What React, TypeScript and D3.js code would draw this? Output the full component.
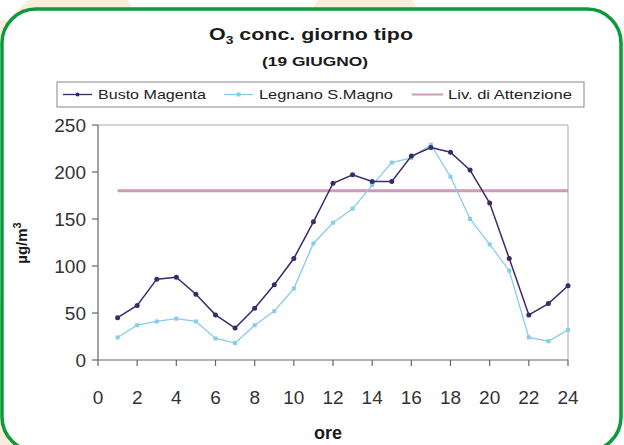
import React from "react";
import * as d3 from "d3";

// hours of the day
const hours = [1, 2, 3, 4, 5, 6, 7, 8, 9, 10, 11, 12, 13, 14, 15, 16, 17, 18, 19, 20, 21, 22, 23, 24];
const bustoMagenta = [45, 58, 86, 88, 70, 48, 34, 55, 80, 108, 147, 188, 197, 190, 190, 217, 226, 221, 202, 167, 108, 48, 60, 79];
const legnanoSMagno = [24, 37, 41, 44, 41, 23, 18, 37, 52, 76, 124, 146, 161, 186, 210, 215, 229, 195, 150, 123, 95, 24, 20, 32];
const livAttenzione = 180;
const xTicks = [0, 2, 4, 6, 8, 10, 12, 14, 16, 18, 20, 22, 24];
const yTicks = [0, 50, 100, 150, 200, 250];
const legendNames = ["Busto Magenta", "Legnano S.Magno", "Liv. di Attenzione"];

const W = 624;
const H = 445;
const FONT = "Liberation Sans, Arial, sans-serif";

const colBusto = "#3b2a6b";
const colLegnano = "#86cdea";
const colLiv = "#cf99ba";
const axisCol = "#666";

export default function App() {
  const x = d3.scaleLinear().domain([0, 24]).range([98, 568]);
  const y = d3.scaleLinear().domain([0, 250]).range([360, 125]);

  const line = d3
    .line<number>()
    .x((_, i) => x(hours[i]))
    .y((d) => y(d));

  return (
    <svg
      width={W}
      height={H}
      style={{ position: "absolute", left: 0, top: 0, background: "#fff" }}
      fontFamily={FONT}
    >
      {/* background decoration */}
      <polygon points="8,20 28,0 128,0 138,20" fill="#fcecdc" />
      <polygon points="305,20 318,0 412,0 425,20" fill="#fcecdc" />
      <rect x={0} y={300} width={40} height={145} fill="#fcecdc" />
      <rect x={0} y={20} width={30} height={30} fill="#fcecdc" />
      <rect x={2} y={9} width={619} height={442} rx={34} fill="#fff" stroke="#0b9a3c" strokeWidth={3.5} />

      {/* title */}
      <text x={311} y={40} textAnchor="middle" fontWeight="bold" fontSize={17} fill="#1a1a1a" textLength={204} lengthAdjust="spacingAndGlyphs">
        O<tspan fontSize={11} dy={4}>3</tspan>
        <tspan dy={-4}> conc. giorno tipo</tspan>
      </text>
      <text x={315} y={66} textAnchor="middle" fontWeight="bold" fontSize={12.5} fill="#1a1a1a" textLength={106} lengthAdjust="spacingAndGlyphs">
        (19 GIUGNO)
      </text>

      {/* legend */}
      <rect x={57} y={82} width={527} height={25} fill="#fff" stroke="#888" strokeWidth={1} />
      <g fontSize={13} fill="#222">
        <line x1={63} x2={92} y1={94.5} y2={94.5} stroke={colBusto} strokeWidth={1.3} />
        <circle cx={77.5} cy={94.5} r={2} fill={colBusto} />
        <text x={98} y={99} textLength={108} lengthAdjust="spacingAndGlyphs">{legendNames[0]}</text>
        <line x1={224} x2={253} y1={94.5} y2={94.5} stroke={colLegnano} strokeWidth={1.3} />
        <rect x={236.5} y={92.5} width={4} height={4} fill={colLegnano} />
        <text x={259} y={99} textLength={134} lengthAdjust="spacingAndGlyphs">{legendNames[1]}</text>
        <line x1={412} x2={443} y1={94.5} y2={94.5} stroke={colLiv} strokeWidth={2} />
        <text x={448} y={99} textLength={124} lengthAdjust="spacingAndGlyphs">{legendNames[2]}</text>
      </g>

      {/* plot frame */}
      <line x1={98} x2={568} y1={125} y2={125} stroke="#aaa" strokeWidth={1} />
      <line x1={568} x2={568} y1={125} y2={360} stroke="#aaa" strokeWidth={1} />
      <line x1={98} x2={98} y1={125} y2={360} stroke={axisCol} strokeWidth={1.2} />
      <line x1={98} x2={568} y1={360} y2={360} stroke={axisCol} strokeWidth={1.2} />

      {/* y axis */}
      {yTicks.map((t) => (
        <g key={"y" + t}>
          <line x1={92} x2={98} y1={y(t)} y2={y(t)} stroke={axisCol} strokeWidth={1.2} />
          <text x={86} y={y(t) + 6.5} textAnchor="end" fontSize={19} fill="#333">
            {t}
          </text>
        </g>
      ))}
      {/* x axis */}
      {xTicks.map((t) => (
        <g key={"x" + t}>
          <line x1={x(t)} x2={x(t)} y1={360} y2={366} stroke={axisCol} strokeWidth={1.2} />
          <text x={x(t)} y={404} textAnchor="middle" fontSize={19} fill="#333">
            {t}
          </text>
        </g>
      ))}

      <text x={328} y={439} textAnchor="middle" fontWeight="bold" fontSize={18} fill="#1a1a1a">
        ore
      </text>
      <text transform="translate(27,243) rotate(-90)" textAnchor="middle" fontWeight="bold" fontSize={15} fill="#1a1a1a">
        µg/m<tspan fontSize={11} dy={-6}>3</tspan>
      </text>

      {/* attention level */}
      <line x1={x(1)} x2={x(24)} y1={y(livAttenzione)} y2={y(livAttenzione)} stroke={colLiv} strokeWidth={3} />

      {/* series */}
      <path d={line(legnanoSMagno) || ""} fill="none" stroke={colLegnano} strokeWidth={1.3} />
      {legnanoSMagno.map((v, i) => (
        <rect key={"l" + i} x={x(hours[i]) - 2} y={y(v) - 2} width={4} height={4} fill={colLegnano} />
      ))}
      <path d={line(bustoMagenta) || ""} fill="none" stroke={colBusto} strokeWidth={1.5} />
      {bustoMagenta.map((v, i) => (
        <circle key={"b" + i} cx={x(hours[i])} cy={y(v)} r={2.5} fill={colBusto} />
      ))}
    </svg>
  );
}
